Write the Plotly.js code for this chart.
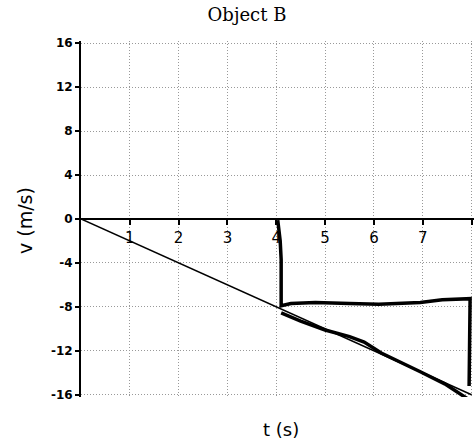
<!DOCTYPE html>
<html>
<head>
<meta charset="utf-8">
<script src="https://cdn.plot.ly/plotly-3.0.1.min.js"></script>
<style>
html,body{margin:0;padding:0;background:#fff;}
#chart{width:474px;height:444px;}
</style>
</head>
<body>
<div id="chart"></div>
<script>
// Printed straight line v = -2 t
var lineT = [0, 8];
var lineV = [0, -16];

// Hand-drawn path: down at t=4, flat near -7.7, down at t=8
var pathT = [4.03, 4.08, 4.1, 4.1, 4.3, 4.8, 5.5, 6.1, 6.95, 7.4, 7.97, 7.96, 7.95];
var pathV = [-0.1, -2.0, -3.7, -7.9, -7.7, -7.6, -7.7, -7.75, -7.6, -7.35, -7.25, -10.0, -15.2];

// Hand-drawn line tracing below the printed line
var traceT = [4.1, 4.5, 5.0, 5.5, 5.8, 6.15, 6.95, 7.45, 8.0];
var traceV = [-8.55, -9.3, -10.1, -10.7, -11.2, -12.2, -13.9, -15.0, -16.6];

var xTicks = [1, 2, 3, 4, 5, 6, 7, 8];
var xTickText = ['1', '2', '3', '4', '5', '6', '7', '8'];
var yTicks = [-16, -12, -8, -4, 0, 4, 8, 12, 16];
var yTickText = ['-16', '-12', '-8', '-4', '0', '4', '8', '12', '16'];

var titleText = 'Object B';
var xTitle = 't (s)';
var yTitle = 'v (m/s)';

var traces = [
  {x: lineT, y: lineV, xaxis: 'x2', mode: 'lines', line: {color: '#000', width: 1.5}, hoverinfo: 'skip'},
  {x: pathT, y: pathV, mode: 'lines', line: {color: '#000', width: 3.5}, hoverinfo: 'skip'},
  {x: traceT, y: traceV, mode: 'lines', line: {color: '#000', width: 3.5}, hoverinfo: 'skip'}
];

var gridStyle = {showgrid: true, gridcolor: '#999', gridwidth: 1, griddash: '1px,2px'};

var layout = {
  width: 474, height: 444,
  margin: {l: 81, r: 0, t: 41, b: 47},
  paper_bgcolor: '#fff', plot_bgcolor: '#fff',
  showlegend: false,
  title: {text: titleText, x: 247/474, xref: 'container', xanchor: 'center', y: 1 - 15/444, yref: 'container', yanchor: 'middle',
          font: {family: 'DejaVu Serif', size: 18, color: '#000'}},
  xaxis: Object.assign({
    range: [0, 8.05], tickvals: xTicks, showticklabels: false, ticks: '', zeroline: false,
    showline: false
  }, gridStyle),
  xaxis2: {
    overlaying: 'x', anchor: 'free', position: 0.5, side: 'bottom',
    range: [0, 8.05], tickvals: xTicks, ticktext: xTickText, showgrid: false, zeroline: false,
    showline: false, ticks: 'outside', ticklen: 5, tickwidth: 2, tickcolor: '#000',
    tickfont: {family: 'DejaVu Sans', size: 15, color: '#000'}
  },
  yaxis: Object.assign({
    range: [-16.2, 16.2], tickvals: yTicks, ticktext: yTickText,
    showline: true, linecolor: '#000', linewidth: 2,
    ticks: 'outside', ticklen: 4, tickwidth: 2, tickcolor: '#000',
    zeroline: true, zerolinecolor: '#000', zerolinewidth: 2,
    tickfont: {family: 'DejaVu Sans', size: 12, color: '#000', weight: 'bold'}
  }, gridStyle),
  annotations: [
    {text: xTitle, xref: 'paper', yref: 'paper', x: (281-81)/393, y: 0, yshift: -32, xanchor: 'center', yanchor: 'middle',
     borderpad: 0, showarrow: false, font: {family: 'DejaVu Sans', size: 18, color: '#000'}},
    {text: yTitle, xref: 'paper', yref: 'paper', x: 0, xshift: -56, y: (397-221)/356, xanchor: 'center', yanchor: 'middle',
     borderpad: 0, textangle: -90, showarrow: false, font: {family: 'DejaVu Sans', size: 19, color: '#000'}}
  ]
};

Plotly.newPlot('chart', traces, layout, {staticPlot: true, displayModeBar: false});
</script>
</body>
</html>
